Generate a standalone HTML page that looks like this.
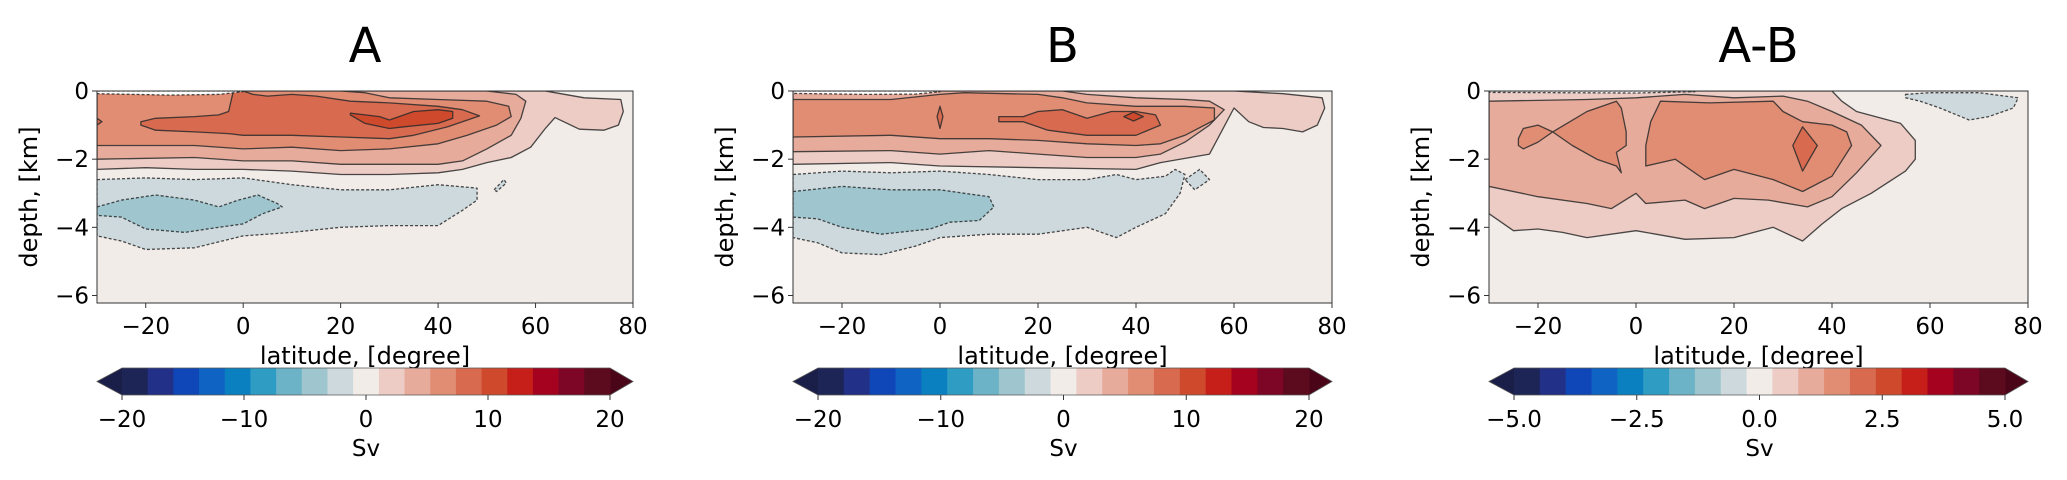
<!DOCTYPE html>
<html><head><meta charset="utf-8">
<style>
html,body{margin:0;padding:0;background:#fff;}
svg{display:block;font-family:"DejaVu Sans","Liberation Sans",sans-serif;}
</style></head>
<body>
<svg id="fig" width="2067" height="480" viewBox="0 0 2067 480" xmlns="http://www.w3.org/2000/svg"></svg>
<script>
// ---------- color levels ----------
const levelColors = ["#1a1f4a","#1d2557","#223088","#1047b8","#0f63c2","#0a80c0","#2f9dc3","#6cb3c8","#9fc6cf","#cdd9dd","#f2ece9","#ecccc4","#e6ab9b","#e08d74","#d86b4f","#cf4a2c","#c61f19","#a5021f","#7d0525","#5c0a1e","#4a0519"];
const cbTicksAB = ["\u221220","\u221210","0","10","20"];
const cbTicksC = ["\u22125.0","\u22122.5","0.0","2.5","5.0"];
const xTicks = [-20,0,20,40,60,80];
const yTicks = [0,-2,-4,-6];

// ---------- Panel A regions ----------
const A_L1_lat=[-30,-20,-10,0,10,20,30,40,45,50,55,59,62,64,69,74,77,78,77.5,70,64,62,-30];
const A_L1_dep=[2.3,2.25,2.3,2.3,2.35,2.45,2.45,2.4,2.3,2.1,1.95,1.65,1.1,0.78,1.12,1.15,1.0,0.6,0.25,0.2,0.05,0,0];
const A_L2_lat=[-30,-10,0,10,20,30,40,45,50,55,57,58,56,50,-30];
const A_L2_dep=[2.0,1.95,2.05,2.05,2.15,2.15,2.15,2.05,1.7,1.3,0.8,0.3,0.1,0.0,0.0];
const A_L3_lat=[-30,-10,0,10,20,30,40,46,52,55,54.5,50,40,30,25,20,-30];
const A_L3_dep=[1.6,1.6,1.7,1.65,1.75,1.7,1.55,1.3,1.0,0.75,0.45,0.3,0.25,0.2,0.05,0.0,0.0];
const A_L4_lat=[-21,-18,-10,-3,0,10,20,30,35,42,48.5,45,40,30,22,15,10,5,2,0,-2,-3,-5,-10,-18,-21];
const A_L4_dep=[1.0,1.15,1.2,1.25,1.3,1.3,1.35,1.4,1.3,1.05,0.73,0.55,0.45,0.35,0.3,0.15,0.1,0.15,0.1,0.0,0.0,0.6,0.7,0.75,0.8,0.9];
const A_L4b_lat=[-30,-29,-30];
const A_L4b_dep=[0.8,0.9,1.0];
const A_L5_lat=[22,25,30,33,40,43,43,40,35,30,28,25,22];
const A_L5_dep=[0.7,0.95,1.1,1.05,0.95,0.8,0.6,0.55,0.6,0.85,0.75,0.7,0.65];
const A_N1_lat=[-30,-20,-10,0,10,20,30,40,48,48,45,40,30,20,10,0,-10,-20,-25,-30];
const A_N1_dep=[2.6,2.55,2.6,2.55,2.75,2.9,2.9,2.75,2.85,3.2,3.5,3.95,3.95,4.0,4.15,4.25,4.6,4.65,4.4,4.25];
const A_N1b_lat=[51.5,53.5,54,52];
const A_N1b_dep=[2.9,2.6,2.7,2.95];
const A_N2_lat=[-30,-25,-18,-10,-5,-1,3,7,8,4,0,-5,-12,-20,-25,-30];
const A_N2_dep=[3.4,3.2,3.05,3.2,3.4,3.2,3.05,3.3,3.4,3.6,3.9,4.0,4.15,4.05,3.7,3.65];
const A_S_lat=[-30,-20,-10,-2,0,-5,-15,-30];
const A_S_dep=[0,0,0,0,0.02,0.1,0.12,0.08];

// ---------- Panel B regions ----------
const B_L1_lat=[-30,-10,0,20,40,45,55,60,63,66,70,74,77,78.5,78,70,60,-30];
const B_L1_dep=[2.15,2.1,2.2,2.25,2.3,2.1,1.85,0.5,0.9,1.07,1.1,1.2,1.0,0.5,0.2,0.08,0,0];
const B_L2_lat=[-30,-10,0,10,20,30,40,45,50,55,58,55,50,40,30,25,-30];
const B_L2_dep=[1.78,1.75,1.85,1.75,1.85,1.95,1.95,1.85,1.5,1.0,0.55,0.3,0.25,0.2,0.1,0.0,0.0];
const B_L3_lat=[-30,-10,0,10,20,30,40,45,50,56,56,50,40,30,25,20,5,0,-10,-30];
const B_L3_dep=[1.35,1.3,1.4,1.4,1.45,1.55,1.6,1.55,1.3,0.85,0.5,0.45,0.45,0.35,0.2,0.1,0.05,0.1,0.25,0.25];
const B_L4_lat=[12,12,17,22,30,40,45,44,40,35,30,25,20,17];
const B_L4_dep=[0.75,0.9,0.9,1.15,1.3,1.3,1.0,0.7,0.6,0.6,0.8,0.55,0.6,0.75];
const B_L4b_lat=[0,0.6,0,-0.6];
const B_L4b_dep=[0.45,0.75,1.1,0.75];
const B_L5_lat=[37.5,39.5,41.5,39.5];
const B_L5_dep=[0.75,0.62,0.75,0.88];
const B_N1_lat=[-30,-20,-10,0,10,20,30,36,40,46,48,50,49,46,40,36,30,20,10,0,-5,-12,-20,-25,-30];
const B_N1_dep=[2.45,2.35,2.4,2.35,2.45,2.6,2.6,2.45,2.6,2.5,2.3,2.45,3.0,3.6,4.0,4.3,4.0,4.2,4.2,4.3,4.55,4.8,4.75,4.45,4.3];
const B_N1b_lat=[50,53,55,52];
const B_N1b_dep=[2.6,2.3,2.6,2.9];
const B_N2_lat=[-30,-20,-10,0,5,10,11,8,2,-2,-12,-20,-25,-30];
const B_N2_dep=[2.95,2.8,2.9,2.9,3.0,3.1,3.4,3.8,3.85,4.05,4.2,4.0,3.75,3.7];
const B_S_lat=[-30,-20,-10,-2,0,-5,-15,-30];
const B_S_dep=[0,0,0,0,0.02,0.09,0.1,0.07];

// ---------- Panel C regions ----------
const C_L1_lat=[-30,-25,-20,-15,-10,0,10,20,28,34,38,42,48,55,57,57,54,45,42,40,-30];
const C_L1_dep=[3.6,4.1,4.05,4.15,4.3,4.1,4.35,4.3,4.0,4.4,3.9,3.45,3.0,2.35,2.0,1.45,0.95,0.6,0.3,0.0,0.0];
const C_L2_lat=[-30,-20,-10,-5,0,2,10,14,20,27,35,40,45,50,46,40,35,30,20,10,0,-10,-30];
const C_L2_dep=[2.8,3.1,3.3,3.45,3.0,3.3,3.2,3.45,3.15,3.2,3.4,3.1,2.4,1.6,1.0,0.6,0.3,0.15,0.2,0.1,0.2,0.25,0.3];
const C_L3_lat=[-24,-23,-20,-17,-13,-8,-4,-3,-4,-2,-2,-3,-4,-10,-17,-20,-23,-24];
const C_L3_dep=[1.6,1.7,1.5,1.2,1.6,2.0,2.2,2.4,1.8,1.6,1.2,0.5,0.3,0.6,1.2,1.0,1.1,1.4];
const C_L3b_lat=[2,2,8,14,20,28,34,40,44,43,40,34,30,28,15,5,3];
const C_L3b_dep=[1.6,2.2,2.0,2.6,2.3,2.6,2.95,2.5,1.6,1.2,1.0,0.9,0.6,0.3,0.35,0.3,0.9];
const C_L4_lat=[32,34,37,34];
const C_L4_dep=[1.6,1.05,1.6,2.35];
const C_N1_lat=[55,60,70,78,77,72,68,62,58,55];
const C_N1_dep=[0.1,0.05,0.05,0.2,0.5,0.75,0.85,0.5,0.3,0.2];
const C_S_lat=[-30,-10,0,10,12,0,-15,-30];
const C_S_dep=[0,0,0,0,0.02,0.06,0.05,0.04];

const panels=[
 {id:"a",title:"A",left:97,right:633,cbL:122,cbR:610,ticks:cbTicksAB,
  regions:[[A_L1_lat,A_L1_dep,11,0],[A_L2_lat,A_L2_dep,12,0],[A_L3_lat,A_L3_dep,13,0],[A_L4_lat,A_L4_dep,14,0],[A_L4b_lat,A_L4b_dep,14,0],[A_L5_lat,A_L5_dep,15,0],
   [A_N1_lat,A_N1_dep,9,1],[A_N1b_lat,A_N1b_dep,9,1],[A_N2_lat,A_N2_dep,8,1],[A_S_lat,A_S_dep,-1,1]]},
 {id:"b",title:"B",left:793,right:1332,cbL:818,cbR:1309,ticks:cbTicksAB,
  regions:[[B_L1_lat,B_L1_dep,11,0],[B_L2_lat,B_L2_dep,12,0],[B_L3_lat,B_L3_dep,13,0],[B_L4_lat,B_L4_dep,14,0],[B_L4b_lat,B_L4b_dep,14,0],[B_L5_lat,B_L5_dep,15,0],
   [B_N1_lat,B_N1_dep,9,1],[B_N1b_lat,B_N1b_dep,9,1],[B_N2_lat,B_N2_dep,8,1],[B_S_lat,B_S_dep,-1,1]]},
 {id:"c",title:"A-B",left:1489,right:2028,cbL:1514,cbR:2005,ticks:cbTicksC,
  regions:[[C_L1_lat,C_L1_dep,11,0],[C_L2_lat,C_L2_dep,12,0],[C_L3_lat,C_L3_dep,13,0],[C_L3b_lat,C_L3b_dep,13,0],[C_L4_lat,C_L4_dep,14,0],
   [C_N1_lat,C_N1_dep,9,1],[C_S_lat,C_S_dep,-1,1]]}
];

const NS="http://www.w3.org/2000/svg";
const fig=document.getElementById("fig");
function mk(tag,attrs,parent,text){const e=document.createElementNS(NS,tag);for(const k in attrs)e.setAttribute(k,attrs[k]);if(text!==undefined)e.textContent=text;(parent||fig).appendChild(e);return e;}
const TOP=91,BOT=303,DMAX=6.22,LATMIN=-30,LATMAX=80;

panels.forEach(p=>{
  const g=mk("g",{});
  
  
  const xS=lat=>p.left+(lat-LATMIN)/(LATMAX-LATMIN)*(p.right-p.left);
  const yS=d=>TOP+d/DMAX*(BOT-TOP);
  const cx=(p.left+p.right)/2;
  const t=mk("text",{x:cx,y:62,"text-anchor":"middle","font-size":48,fill:"#000"},g,p.title);
  
  
  const clipId="clip"+p.id;
  const cp=mk("clipPath",{id:clipId},g);
  mk("rect",{x:p.left,y:TOP,width:p.right-p.left,height:BOT-TOP},cp);
  const bg=mk("rect",{x:p.left,y:TOP,width:p.right-p.left,height:BOT-TOP,fill:levelColors[10]},g);
  
  
  const rg=mk("g",{"clip-path":"url(#"+clipId+")"},g);
  p.regions.forEach(r=>{
    const [lats,deps,lvl,neg]=r;
    const pts=lats.map((la,i)=>xS(la).toFixed(1)+","+yS(deps[i]).toFixed(1)).join(" ");
    const fill=lvl<0?"#ffffff":levelColors[lvl];
    const poly=mk("polygon",{points:pts,fill:fill,stroke:"#2a2a2a","stroke-width":1.3,"stroke-opacity":0.85,"stroke-dasharray":neg?"3,2":"none","stroke-linejoin":"round"},rg);
    
    
  });
  const fr=mk("rect",{x:p.left,y:TOP,width:p.right-p.left,height:BOT-TOP,fill:"none",stroke:"#333","stroke-width":1},g);
  
  
  xTicks.forEach(v=>{
    const x=xS(v);
    mk("line",{x1:x,y1:BOT,x2:x,y2:BOT+5,stroke:"#333","stroke-width":1},g);
    const tl=mk("text",{x:x,y:334,"text-anchor":"middle","font-size":23,fill:"#000"},g,(v<0?"\u2212":"")+Math.abs(v));
    
    
  });
  yTicks.forEach(v=>{
    const y=yS(-v);
    mk("line",{x1:p.left,y1:y,x2:p.left-5,y2:y,stroke:"#333","stroke-width":1},g);
    const tl=mk("text",{x:p.left-8,y:y+8,"text-anchor":"end","font-size":23,fill:"#000"},g,(v<0?"\u2212":"")+Math.abs(v));
    
    
  });
  const xl=mk("text",{x:cx,y:364,"text-anchor":"middle","font-size":24,fill:"#000"},g,"latitude, [degree]");
  
  
  const yl=mk("text",{x:0,y:0,"text-anchor":"middle","font-size":24,fill:"#000",transform:"translate("+(p.left-60)+","+((TOP+BOT)/2)+") rotate(-90)"},g,"depth, [km]");
  
  
  // colorbar
  const cg=mk("g",{},g);
  
  
  const cy0=368,cy1=395,nb=19,bw=(p.cbR-p.cbL)/nb;
  mk("polygon",{points:(p.cbL)+","+cy0+" "+(p.left)+","+((cy0+cy1)/2)+" "+(p.cbL)+","+cy1,fill:levelColors[0]},cg);
  mk("polygon",{points:(p.cbR)+","+cy0+" "+(p.right)+","+((cy0+cy1)/2)+" "+(p.cbR)+","+cy1,fill:levelColors[20]},cg);
  for(let i=0;i<nb;i++){
    mk("rect",{x:(p.cbL+i*bw).toFixed(2),y:cy0,width:(bw+0.6).toFixed(2),height:cy1-cy0,fill:levelColors[i+1]},cg);
  }
  mk("polygon",{points:p.left+","+((cy0+cy1)/2)+" "+p.cbL+","+cy0+" "+p.cbR+","+cy0+" "+p.right+","+((cy0+cy1)/2)+" "+p.cbR+","+cy1+" "+p.cbL+","+cy1,fill:"none",stroke:"#555","stroke-width":0.8},cg);
  p.ticks.forEach((lab,i)=>{
    const x=p.cbL+i*(p.cbR-p.cbL)/4;
    mk("line",{x1:x,y1:cy1,x2:x,y2:cy1+5,stroke:"#333","stroke-width":1},cg);
    const tl=mk("text",{x:x,y:427,"text-anchor":"middle","font-size":23,fill:"#000"},cg,lab);
    
    
  });
  const sv=mk("text",{x:(p.cbL+p.cbR)/2,y:456,"text-anchor":"middle","font-size":23,fill:"#000"},cg,"Sv");
  
  
});
</script>
</body></html>
